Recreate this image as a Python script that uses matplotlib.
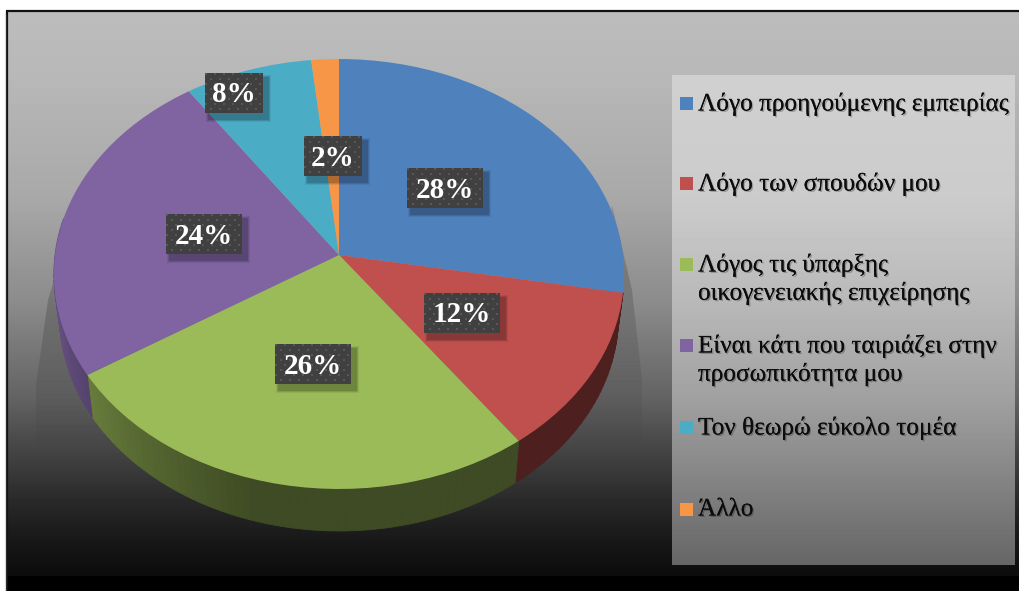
import numpy as np
import matplotlib
matplotlib.use("Agg")
import matplotlib.pyplot as plt
import matplotlib.patheffects as pe
from matplotlib.collections import PolyCollection
from matplotlib.patches import Polygon, Rectangle
from matplotlib.transforms import Transform

# ---- data ----
categories = ["Λόγο προηγούμενης εμπειρίας", "Λόγο των σπουδών μου",
              "Λόγος τις ύπαρξης\nοικογενειακής επιχείρησης",
              "Είναι κάτι που ταιριάζει στην\nπροσωπικότητα μου",
              "Τον θεωρώ εύκολο τομέα", "Άλλο"]
values = [27.8, 12.2, 26.0, 24.4, 7.9, 1.7]
colors = ["#4f81bd", "#c0504d", "#9bbb59", "#8064a2", "#4bacc6", "#f79646"]

# ---- layout ----
W, H = 1020, 591
APEX = (339.0, 255.0)
PERSP_C, PERSP_A, PERSP_X = 0.0884, 213.3, 284.0
DEPTH, DEPTH_SCALE = 42.0, 0.98
LEGEND_Y = [103, 183, 264, 345, 427, 509]
LABEL_MOVED = {2: (313, 364), 3: (204.5, 234), 4: (234, 93), 5: (333, 156)}
FONT = "Liberation Serif"


class Persp(Transform):
    """Perspective view of the unit-circle pie, in pixel coordinates."""
    input_dims = output_dims = 2

    def transform_non_affine(self, xy):
        xy = np.asarray(xy, float)
        den = 1 + PERSP_C * xy[:, 1]
        return np.column_stack((APEX[0] + PERSP_X * xy[:, 0] / den,
                                APEX[1] - PERSP_A * xy[:, 1] / den))


persp = Persp()
fig = plt.figure(figsize=(W / 100, H / 100), dpi=100, facecolor="white")
ax = fig.add_axes([0, 0, 1, 1])


def vgrad(y_stops, g_stops, y0, y1):
    ys = np.arange(y0, y1) + 0.5
    return np.interp(ys, y_stops, g_stops)[:, None] / 255


# background gradient
bg = vgrad([13, 75, 200, 300, 400, 433, 500, 540, 575],
           [188, 184, 168, 140, 98, 78, 42, 24, 12], 12, 576)
ax.imshow(bg, extent=(8, W, 576, 12), cmap="gray", vmin=0, vmax=1,
          aspect="auto", interpolation="nearest", zorder=0)
ax.add_patch(Rectangle((8, 576), W - 8, H - 576, fc="black", ec="none", zorder=1))
ax.plot([7, 7], [11, H], color="#111111", lw=1.6, zorder=6, solid_capstyle="butt")
ax.plot([6.5, W], [11, 11], color="#111111", lw=1.6, zorder=6, solid_capstyle="butt")
ax.plot([5.2, 5.2], [14, H], color="#dcdcdc", lw=0.9, zorder=6, solid_capstyle="butt")

# soft shadows at the sides of the pie
for pts, (y0, y1) in (([(66, 240), (48, 300), (36, 385), (36, 450), (70, 480), (130, 500), (120, 400)], (240, 450)),
                      ([(612, 205), (632, 290), (642, 380), (642, 440), (610, 480), (560, 510), (600, 300)], (205, 450))):
    alpha = np.interp(np.arange(y0, y1), [y0, y0 + 70, y1], [0.14, 0.18, 0.0])
    rgba = np.zeros((y1 - y0, 1, 4))
    rgba[:, 0, 3] = alpha
    im = ax.imshow(rgba, extent=(0, W, y1, y0), aspect="auto", zorder=1.5)
    im.set_clip_path(Polygon(pts, transform=ax.transData))

# top of the pie
wedges, _, autotexts = ax.pie(values, colors=colors, startangle=90, counterclock=False,
                              autopct="%.0f%%", pctdistance=0.5, radius=1,
                              wedgeprops=dict(linewidth=0, zorder=3))
for w in wedges:
    w.set_transform(persp + ax.transData)

# side wall of the pie, from the same values
fractions = np.cumsum([0] + values) / np.sum(values)
quads, quad_cols = [], []
for i, col in enumerate(colors):
    base = np.array(matplotlib.colors.to_rgb(col))
    a0, a1 = fractions[i] * 360, fractions[i + 1] * 360
    n = max(2, int((a1 - a0) / 1.5))
    angs = np.radians(np.linspace(a0, a1, n + 1))
    top = persp.transform_non_affine(np.column_stack((np.sin(angs), np.cos(angs))))
    bot = top.copy()
    bot[:, 0] = APEX[0] + (top[:, 0] - APEX[0]) * DEPTH_SCALE
    bot[:, 1] = top[:, 1] + DEPTH
    mid = np.degrees((angs[:-1] + angs[1:]) / 2)
    shade = np.interp(mid, [0, 196, 255, 360], [0.40, 0.40, 0.78, 0.82])
    for k in range(n):
        if 100 < mid[k] < 280:
            quads.append([top[k], top[k + 1], bot[k + 1], bot[k]])
            quad_cols.append(base * shade[k])
ax.add_collection(PolyCollection(quads, facecolors=quad_cols, edgecolors=quad_cols,
                                 linewidths=0.6, zorder=2))

# data labels: textured boxes
for i, t in enumerate(autotexts):
    x, y = t.get_position()
    cx, cy = LABEL_MOVED.get(i) or persp.transform_non_affine(np.array([[x, y]]))[0]
    s = t.get_text()
    bw, bh = 22 + 18 * len(s), 40
    x0, y0 = int(round(cx - bw / 2)), int(round(cy - bh / 2))
    for g, a in ((7, 0.07), (5, 0.10), (3, 0.14)):
        ax.add_patch(Rectangle((x0 + 5 - g / 2, y0 + 5 - g / 2), bw + g, bh + g,
                               fc="black", alpha=a, ec="none", zorder=4))
    yy, xx = np.mgrid[0:bh, 0:bw]
    dots = (((xx + 4 * ((yy // 5) % 2)) % 9 < 2) & (yy % 5 < 2))
    tex = np.where(dots, 0.34, 0.25)
    ax.imshow(tex, extent=(x0, x0 + bw, y0 + bh, y0), cmap="gray", vmin=0, vmax=1,
              aspect="auto", interpolation="nearest", zorder=4.5)
    t.set_position((x0 + bw / 2, y0 + bh / 2 + 2))
    t.set(color="white", family=FONT, fontweight="bold", fontsize=21, ha="center",
          va="center", zorder=5)

# legend panel
lg = vgrad([75, 200, 300, 400, 565], [208, 203, 185, 160, 102], 75, 565)
ax.imshow(lg, extent=(672, 1015, 565, 75), cmap="gray", vmin=0, vmax=1,
          aspect="auto", interpolation="nearest", zorder=3)
for lab, col, y in zip(categories, colors, LEGEND_Y):
    ax.add_patch(Rectangle((680, y - 6.5), 13, 13, fc=col, ec="none", zorder=4))
    ax.text(698, y - 10.5, lab, family=FONT, fontsize=18.2, color="#0c0c0c", ha="left",
            va="top", linespacing=1.29, zorder=5,
            path_effects=[pe.withSimplePatchShadow(offset=(1, -1), shadow_rgbFace="#000000", alpha=0.25),
                          pe.Normal()])

ax.set_aspect("auto")
ax.set_xlim(0, W)
ax.set_ylim(H, 0)
ax.axis("off")
fig.savefig("out.png", dpi=100, facecolor="white")
